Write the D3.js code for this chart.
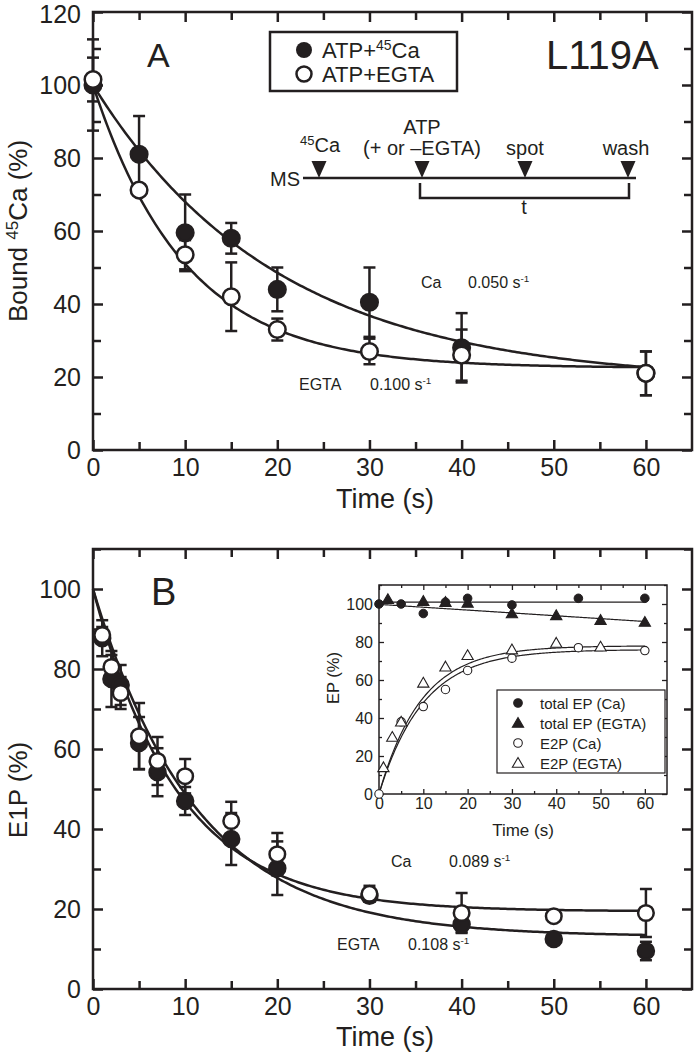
<!DOCTYPE html>
<html><head><meta charset="utf-8">
<script src="https://cdn.jsdelivr.net/npm/d3@7"></script>
<style>
body{margin:0;background:#fff}
svg{display:block}
text{font-family:"Liberation Sans",Arial,Helvetica,sans-serif;fill:#231f20}
</style>
</head><body><svg id="c" width="694" height="1055"></svg>
<script>
// ---------- Panel A data ----------
const timeA = [0, 5, 10, 15, 20, 30, 40, 60];
const caA = [100, 81, 59.5, 58, 44, 40.5, 28, 21];
const caAErr = [12.5, 10.5, 10.5, 4.2, 6, 9.5, 9.5, 6];
const egtaA = [101.5, 71.2, 53.5, 42, 33, 27, 26, 21];
const egtaAErr = [6, 0, 4, 9.4, 3, 3.5, 7, 6];
const fitA_Ca = [81.35, 0.050, 18.65];   // amplitude, rate (s-1), plateau
const fitA_EGTA = [77.5, 0.100, 22.5];

// ---------- Panel B data ----------
const timeB = [1, 2, 3, 5, 7, 10, 15, 20, 30, 40, 50, 60];
const filledB = [87.7, 77.5, 76, 61.5, 54.2, 47, 37.5, 30.2, 23.3, 16.2, 12.5, 9.5];
const filledBErr = [4.5, 7, 5, 6.5, 6, 3.5, 6.5, 6.7, 1.5, 2, 1.5, 2.3];
const openB = [88.5, 80.5, 74, 63.2, 57, 53.2, 42, 33.7, 23.8, 19, 18.2, 19];
const openBErr = [2, 3, 4, 8.3, 6, 4.3, 4.8, 5.3, 2, 5, 0.8, 6];
const fitB_upper = [80.6, 0.108, 19.4];
const fitB_lower = [86.9, 0.089, 13.1];

// ---------- Inset data ----------
const insTotCaT = [0, 5, 10, 15, 20, 30, 45, 60];
const insTotCa = [100, 100, 95, 101, 103, 99.5, 103, 103];
const insTotEgT = [2, 10, 15, 20, 30, 40, 50, 60];
const insTotEg = [102.5, 101.5, 101, 100.5, 95, 94, 91.5, 90.5];
const insE2CaT = [0, 5, 10, 15, 20, 30, 45, 60];
const insE2Ca = [0, 38, 46, 55, 65, 71.5, 77, 75.5];
const insE2EgT = [1, 3, 5, 10, 15, 20, 30, 40, 50];
const insE2Eg = [14, 30, 38, 58.5, 67, 73, 76, 79.5, 77.5];
const insFitTotCa = [101, 0];        // intercept, slope
const insFitTotEg = [99.8, -0.15];
const insFitE2Ca = [76, 0.100];      // plateau, rate
const insFitE2Eg = [78, 0.105];

// ---------- tick labels ----------
const xTicks = [0, 10, 20, 30, 40, 50, 60];
const xMinor = [5, 15, 25, 35, 45, 55];
const yTicksA = [0, 20, 40, 60, 80, 100, 120];
const yMinorA = [10, 30, 50, 70, 90, 110];
const yTicksB = [0, 20, 40, 60, 80, 100];
const yMinorB = [10, 30, 50, 70, 90, 110];
const insYTicks = [0, 20, 40, 60, 80, 100];
const insYMinor = [10, 30, 50, 70, 90, 110];

const INK = "#231f20";
const svg = d3.select("#c");

function decay(p) { return t => p[0] * Math.exp(-p[1] * t) + p[2]; }
function rise(p) { return t => p[0] * (1 - Math.exp(-p[1] * t)); }
function lin(p) { return t => p[0] + p[1] * t; }

function frame(g, x, y, o) {
  const [x0, x1] = x.range(), [y0, y1] = y.range();
  const mk = (axis, tr) => {
    const a = g.append("g").attr("transform", tr).call(axis);
    a.select(".domain").remove();
    a.selectAll("line").attr("stroke", INK).attr("stroke-width", o.sw);
    a.selectAll("text").attr("fill", INK).style("font-size", o.fs + "px")
      .style("font-family", '"Liberation Sans",Arial,sans-serif');
    return a;
  };
  mk(d3.axisBottom(x).tickValues(o.xt).tickSize(-o.tl).tickPadding(o.xpad).tickFormat(d3.format("d")), `translate(0,${y0})`);
  mk(d3.axisBottom(x).tickValues(o.xm).tickSize(-o.ml).tickFormat(""), `translate(0,${y0})`);
  mk(d3.axisTop(x).tickValues(o.xt).tickSize(-o.tl).tickFormat(""), `translate(0,${y1})`);
  mk(d3.axisTop(x).tickValues(o.xm).tickSize(-o.ml).tickFormat(""), `translate(0,${y1})`);
  const yl = mk(d3.axisLeft(y).tickValues(o.yt).tickSize(-o.tl).tickPadding(o.ypad).tickFormat(d3.format("d")), `translate(${x0},0)`);
  yl.selectAll("text").attr("dy", d => (y(d) - y1 < 8 && o.fs > 20) ? "0.40em" : "0.32em");
  mk(d3.axisLeft(y).tickValues(o.ym).tickSize(-o.ml).tickFormat(""), `translate(${x0},0)`);
  mk(d3.axisRight(y).tickValues(o.yt).tickSize(-o.tl).tickFormat(""), `translate(${x1},0)`);
  mk(d3.axisRight(y).tickValues(o.ym).tickSize(-o.ml).tickFormat(""), `translate(${x1},0)`);
  g.append("rect").attr("x", x0).attr("y", y1).attr("width", x1 - x0).attr("height", y0 - y1)
    .attr("fill", "none").attr("stroke", INK).attr("stroke-width", o.fw);
}

function errbars(g, x, y, ts, vs, es, cap, sw) {
  const d = ts.map((t, i) => ({t, v: vs[i], e: es[i]})).filter(d => d.e > 0);
  const eg = g.append("g").attr("stroke", INK).attr("stroke-width", sw);
  eg.selectAll(".v").data(d).join("line")
    .attr("x1", d => x(d.t)).attr("x2", d => x(d.t))
    .attr("y1", d => y(d.v - d.e)).attr("y2", d => y(d.v + d.e));
  eg.selectAll(".ct").data(d).join("line")
    .attr("x1", d => x(d.t) - cap).attr("x2", d => x(d.t) + cap)
    .attr("y1", d => y(d.v + d.e)).attr("y2", d => y(d.v + d.e));
  eg.selectAll(".cb").data(d).join("line")
    .attr("x1", d => x(d.t) - cap).attr("x2", d => x(d.t) + cap)
    .attr("y1", d => y(d.v - d.e)).attr("y2", d => y(d.v - d.e));
}

function dots(g, x, y, ts, vs, r, filled, sw) {
  g.append("g").selectAll("circle").data(ts.map((t, i) => [t, vs[i]])).join("circle")
    .attr("cx", d => x(d[0])).attr("cy", d => y(d[1])).attr("r", r)
    .attr("fill", filled ? INK : "#fff").attr("stroke", INK).attr("stroke-width", sw);
}

function curve(g, x, y, f, t0, t1, sw) {
  const pts = d3.range(t0, t1 + 0.001, 0.25).map(t => [t, f(t)]);
  g.append("path").attr("d", d3.line().x(d => x(d[0])).y(d => y(d[1]))(pts))
    .attr("fill", "none").attr("stroke", INK).attr("stroke-width", sw);
}

function rateLabel(g, xx, yy, name, gap, val, fs) {
  g.append("text").attr("x", xx).attr("y", yy).style("font-size", fs + "px").text(name);
  const t = g.append("text").attr("x", xx + gap).attr("y", yy).style("font-size", fs + "px");
  t.append("tspan").text(val + " s");
  t.append("tspan").attr("dy", -6).style("font-size", (fs * 0.62) + "px").text("-1");
}

const opts = {sw: 2.5, fw: 2.5, tl: 10, ml: 8, fs: 25, xpad: 8, ypad: 12,
  xt: xTicks, xm: xMinor};

// ================= Panel A =================
const xA = d3.scaleLinear().domain([0, 65]).range([93, 692]);
const yA = d3.scaleLinear().domain([0, 120]).range([450, 12]);
const gA = svg.append("g");
frame(gA, xA, yA, {...opts, yt: yTicksA, ym: yMinorA});

curve(gA, xA, yA, decay(fitA_Ca), 0, 60, 2.5);
curve(gA, xA, yA, decay(fitA_EGTA), 0, 60, 2.5);
errbars(gA, xA, yA, timeA, caA, caAErr, 6, 2.5);
errbars(gA, xA, yA, timeA, egtaA, egtaAErr, 6, 2.5);
dots(gA, xA, yA, timeA, caA, 8.3, true, 2.5);
dots(gA, xA, yA, timeA, egtaA, 8.3, false, 2.5);

gA.append("text").attr("x", 147).attr("y", 67).style("font-size", "34px").text("A");
gA.append("text").attr("x", 546).attr("y", 69).style("font-size", "40px").text("L119A");

// legend
gA.append("rect").attr("x", 270).attr("y", 32).attr("width", 187).attr("height", 59)
  .attr("fill", "#fff").attr("stroke", INK).attr("stroke-width", 2.5);
gA.append("circle").attr("cx", 304).attr("cy", 50).attr("r", 8).attr("fill", INK);
gA.append("circle").attr("cx", 304).attr("cy", 74).attr("r", 7.5).attr("fill", "#fff").attr("stroke", INK).attr("stroke-width", 2.5);
const l1 = gA.append("text").attr("x", 322).attr("y", 58).style("font-size", "22px");
l1.append("tspan").text("ATP+");
l1.append("tspan").attr("dy", -8).style("font-size", "14px").text("45");
l1.append("tspan").attr("dy", 8).text("Ca");
gA.append("text").attr("x", 322).attr("y", 82).style("font-size", "22px").text("ATP+EGTA");

// schematic
const sch = gA.append("g");
sch.append("line").attr("x1", 303).attr("x2", 636).attr("y1", 178).attr("y2", 178).attr("stroke", INK).attr("stroke-width", 2.5);
sch.append("text").attr("x", 270).attr("y", 186).style("font-size", "20px").text("MS");
[319, 422, 525, 628].forEach(cx => {
  sch.append("path").attr("d", `M${cx - 7.5},161L${cx + 7.5},161L${cx},178Z`).attr("fill", INK);
});
sch.append("path").attr("d", "M420,183V198H629V183").attr("fill", "none").attr("stroke", INK).attr("stroke-width", 2.5);
sch.append("text").attr("x", 524).attr("y", 214).attr("text-anchor", "middle").style("font-size", "20px").text("t");
const s45 = sch.append("text").attr("x", 300).attr("y", 152).style("font-size", "20px");
s45.append("tspan").attr("dy", -7).style("font-size", "13px").text("45");
s45.append("tspan").attr("dy", 7).text("Ca");
sch.append("text").attr("x", 422).attr("y", 134).attr("text-anchor", "middle").style("font-size", "20px").text("ATP");
sch.append("text").attr("x", 422).attr("y", 155).attr("text-anchor", "middle").style("font-size", "20px").text("(+ or \u2013EGTA)");
sch.append("text").attr("x", 525).attr("y", 155).attr("text-anchor", "middle").style("font-size", "20px").text("spot");
sch.append("text").attr("x", 626).attr("y", 155).attr("text-anchor", "middle").style("font-size", "20px").text("wash");

rateLabel(gA, 421, 288, "Ca", 47, "0.050", 16);
rateLabel(gA, 299, 390, "EGTA", 71, "0.100", 16);

// axis titles A
gA.append("text").attr("x", 385).attr("y", 508).attr("text-anchor", "middle").style("font-size", "27px").text("Time (s)");
const ytA = gA.append("text").attr("transform", "translate(27,231) rotate(-90)").attr("text-anchor", "middle").style("font-size", "26px");
ytA.append("tspan").text("Bound ");
ytA.append("tspan").attr("dy", -9).style("font-size", "17px").text("45");
ytA.append("tspan").attr("dy", 9).text("Ca (%)");

// ================= Panel B =================
const xB = d3.scaleLinear().domain([0, 65]).range([93, 692]);
const yB = d3.scaleLinear().domain([0, 110]).range([989, 549]);
const gB = svg.append("g");
frame(gB, xB, yB, {...opts, yt: yTicksB, ym: yMinorB});

curve(gB, xB, yB, decay(fitB_upper), 0, 60, 2.5);
curve(gB, xB, yB, decay(fitB_lower), 0, 60, 2.5);
errbars(gB, xB, yB, timeB, filledB, filledBErr, 6, 2.5);
errbars(gB, xB, yB, timeB, openB, openBErr, 6, 2.5);
dots(gB, xB, yB, timeB, filledB, 8, true, 2.5);
dots(gB, xB, yB, timeB, openB, 7.8, false, 2.5);

gB.append("text").attr("x", 151).attr("y", 605).style("font-size", "38px").text("B");
rateLabel(gB, 391, 867, "Ca", 58, "0.089", 16);
rateLabel(gB, 337, 950, "EGTA", 71, "0.108", 16);

gB.append("text").attr("x", 385).attr("y", 1046).attr("text-anchor", "middle").style("font-size", "27px").text("Time (s)");
gB.append("text").attr("transform", "translate(27,790) rotate(-90)").attr("text-anchor", "middle").style("font-size", "26px").text("E1P (%)");

// ================= Inset =================
const xI = d3.scaleLinear().domain([0, 65]).range([379, 667]);
const yI = d3.scaleLinear().domain([0, 110]).range([794, 585]);
const gI = svg.append("g");
gI.append("rect").attr("x", 379).attr("y", 585).attr("width", 288).attr("height", 209).attr("fill", "#fff");
frame(gI, xI, yI, {sw: 1.3, fw: 1.5, tl: 5, ml: 3, fs: 16, xpad: 4, ypad: 6,
  xt: xTicks, xm: xMinor, yt: insYTicks, ym: insYMinor});

curve(gI, xI, yI, lin(insFitTotCa), 0, 60, 1.2);
curve(gI, xI, yI, lin(insFitTotEg), 0, 60, 1.2);
curve(gI, xI, yI, rise(insFitE2Ca), 0, 60, 1.2);
curve(gI, xI, yI, rise(insFitE2Eg), 0, 60, 1.2);

const tri = d3.symbol().type(d3.symbolTriangle).size(55);
function tris(g, ts, vs, filled) {
  g.append("g").selectAll("path").data(ts.map((t, i) => [t, vs[i]])).join("path")
    .attr("d", tri).attr("transform", d => `translate(${xI(d[0])},${yI(d[1]) + 1})`)
    .attr("fill", filled ? INK : "#fff").attr("stroke", INK).attr("stroke-width", 1.1);
}
dots(gI, xI, yI, insTotCaT, insTotCa, 4.3, true, 1);
tris(gI, insTotEgT, insTotEg, true);
dots(gI, xI, yI, insE2CaT, insE2Ca, 4.2, false, 1.1);
tris(gI, insE2EgT, insE2Eg, false);

// inset legend
const lg = gI.append("g");
lg.append("rect").attr("x", 497).attr("y", 690).attr("width", 168).attr("height", 83)
  .attr("fill", "#fff").attr("stroke", INK).attr("stroke-width", 1.2);
const legItems = ["total EP (Ca)", "total EP (EGTA)", "E2P (Ca)", "E2P (EGTA)"];
legItems.forEach((s, i) => {
  const cy = 703 + i * 20;
  if (i % 2 === 0) lg.append("circle").attr("cx", 518).attr("cy", cy).attr("r", 4.3)
    .attr("fill", i === 0 ? INK : "#fff").attr("stroke", INK).attr("stroke-width", 1.1);
  else lg.append("path").attr("d", tri).attr("transform", `translate(518,${cy + 1})`)
    .attr("fill", i === 1 ? INK : "#fff").attr("stroke", INK).attr("stroke-width", 1.1);
  lg.append("text").attr("x", 540).attr("y", cy + 5.5).style("font-size", "15px").text(s);
});

gI.append("text").attr("x", 523).attr("y", 836).attr("text-anchor", "middle").style("font-size", "17px").text("Time (s)");
gI.append("text").attr("transform", "translate(339,678) rotate(-90)").attr("text-anchor", "middle").style("font-size", "16.5px").text("EP (%)");
</script></body></html>
